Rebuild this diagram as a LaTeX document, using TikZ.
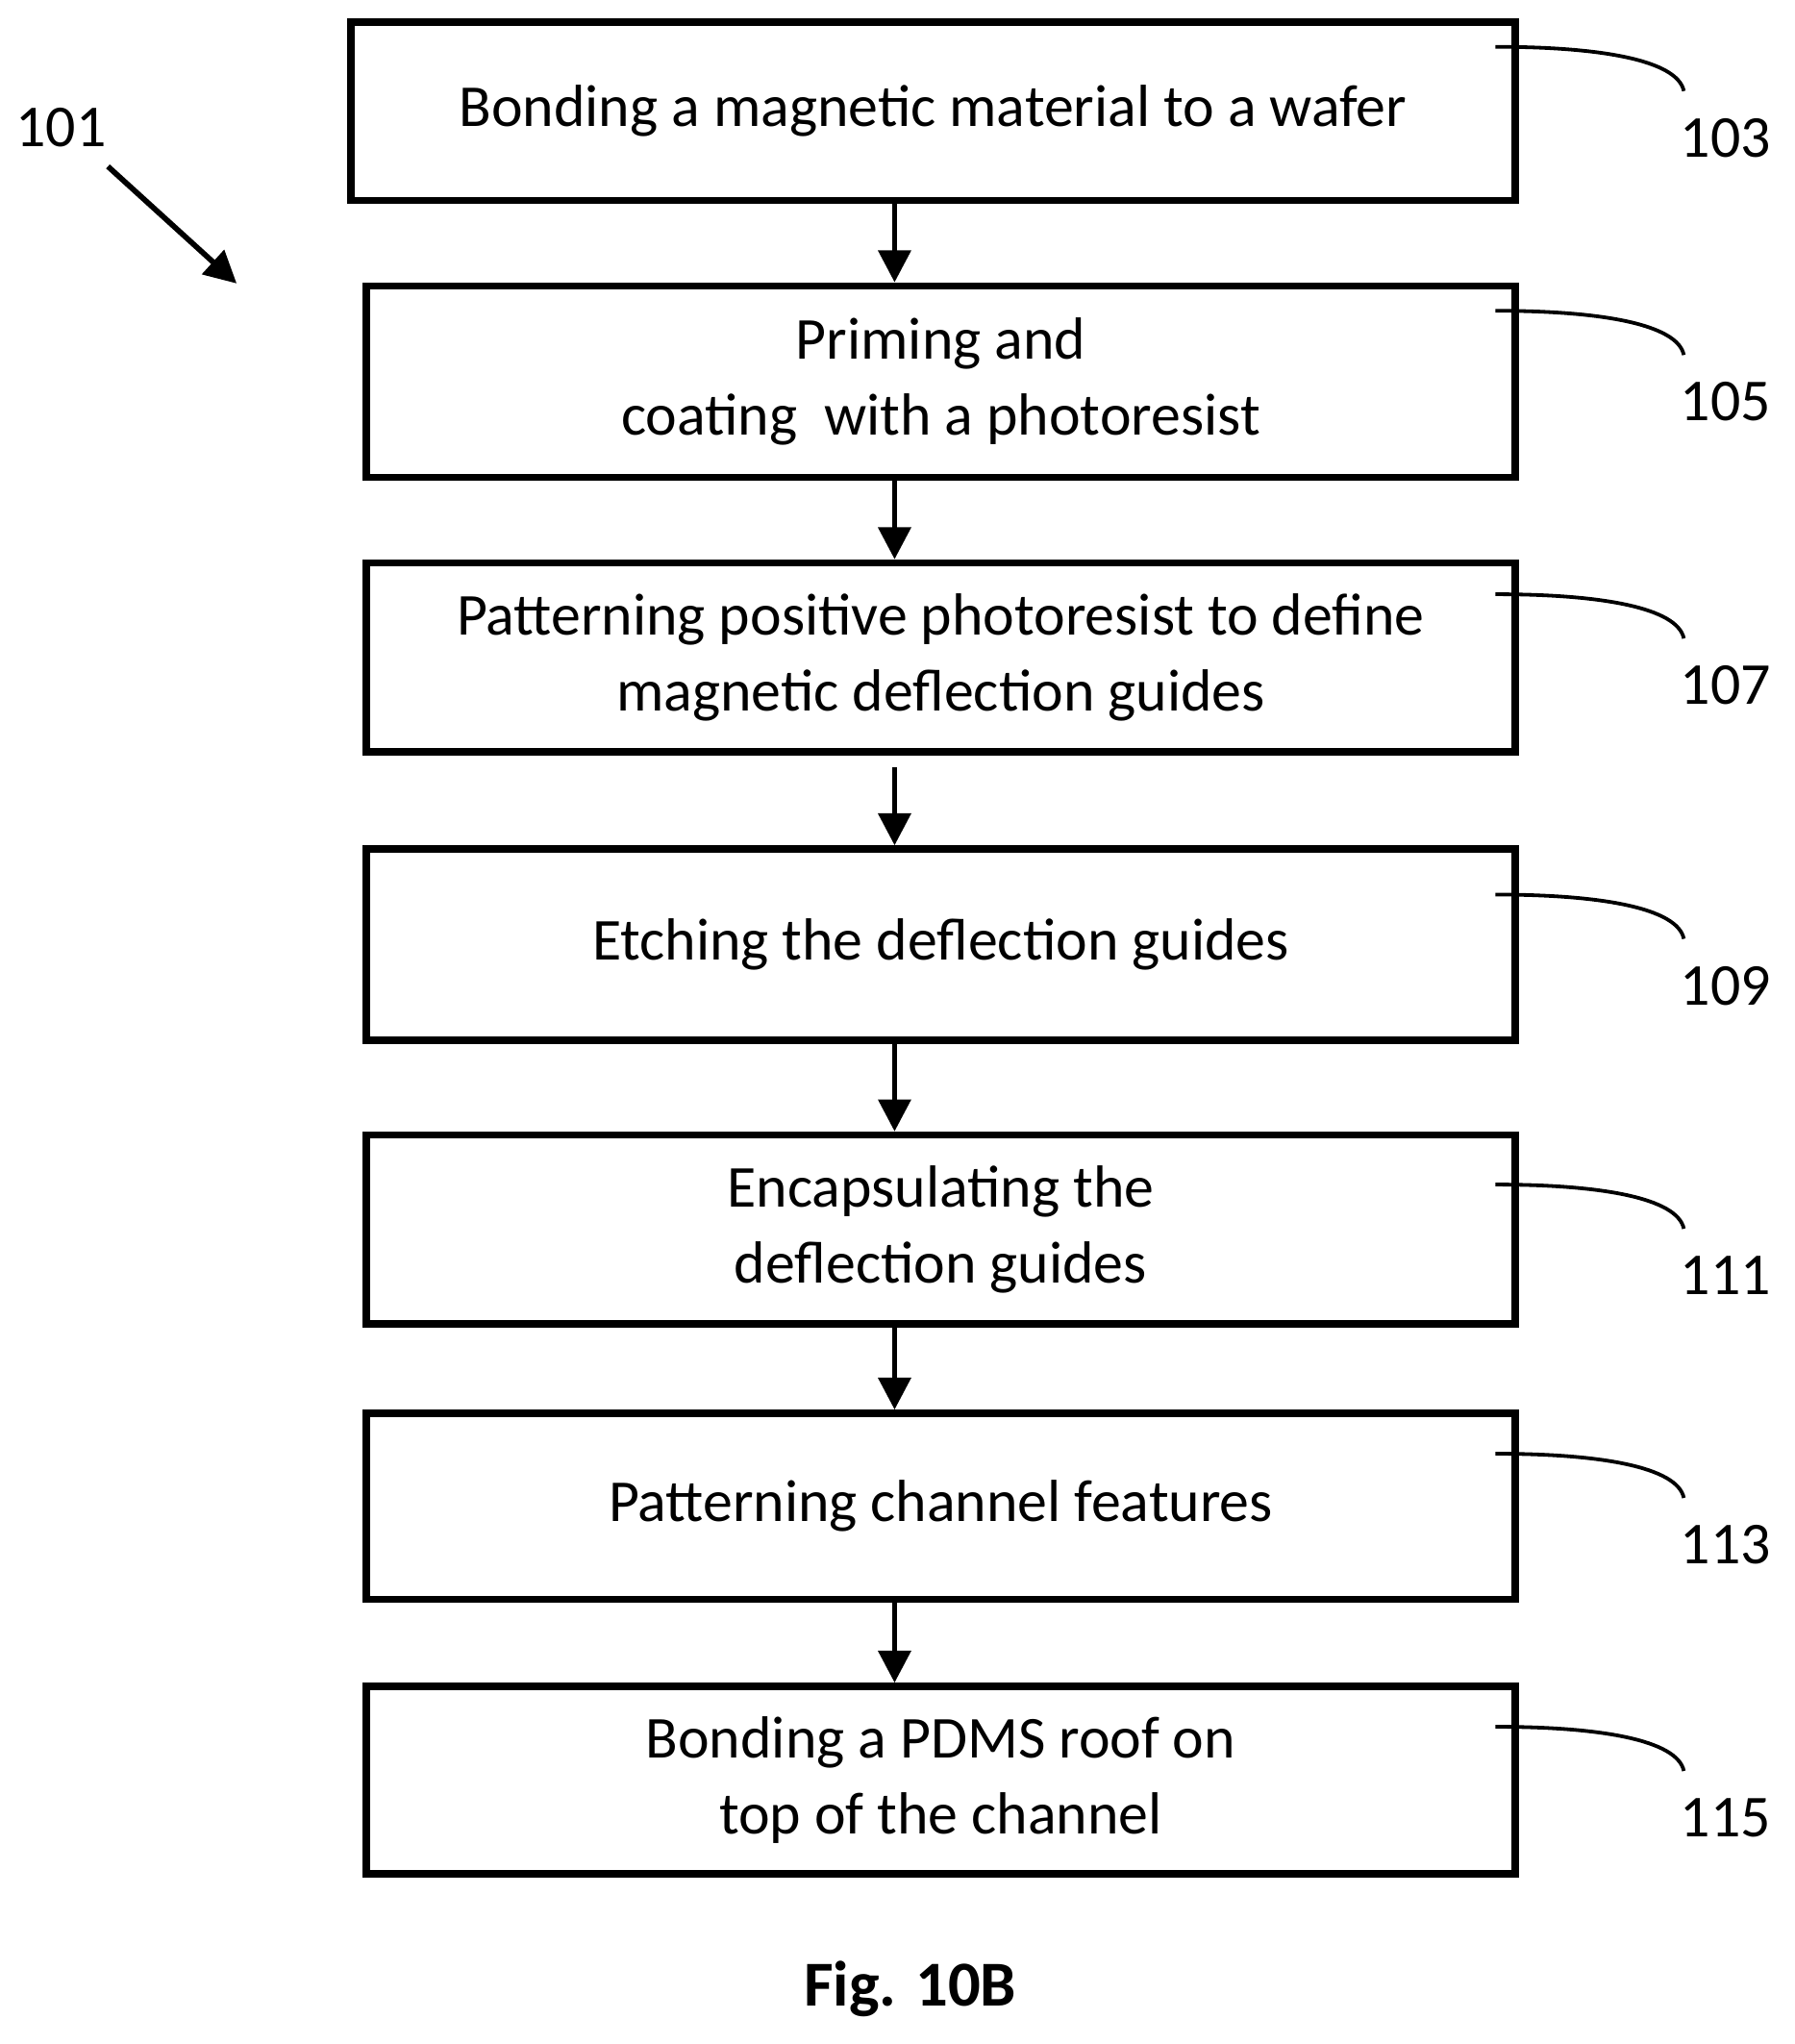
\documentclass[tikz,border=0pt]{standalone}
\usepackage{fontspec}
\setmainfont{Carlito}
\usetikzlibrary{arrows.meta,positioning}
\tikzstyle{stage}=[draw, line width=1.6pt, inner sep=0pt, align=center,
                   font=\fontsize{13}{16.5}\selectfont]
\tikzstyle{flow} =[-{Triangle[length=7pt,width=7pt]}, line width=1.2pt]
\tikzstyle{lead} =[line width=0.8pt]
\tikzstyle{num}  =[font=\fontsize{13}{16}\selectfont]
\begin{document}
\begin{tikzpicture}[x=0.01cm,y=-0.01cm]
    \useasboundingbox (0,0) rectangle (1380,1572);

    \node (s1) [stage,minimum width=8.95cm,minimum height=1.37cm] at (717.5,85.5) {Bonding a magnetic material to a wafer};
    \node (s2) [stage,minimum width=8.83cm,minimum height=1.47cm] at (723.5,293.5) {Priming and\\coating\ \ with a photoresist};
    \node (s3) [stage,minimum width=8.83cm,minimum height=1.45cm] at (723.5,505.5) {Patterning positive photoresist to define\\magnetic deflection guides};
    \node (s4) [stage,minimum width=8.83cm,minimum height=1.47cm] at (723.5,726.5) {Etching the deflection guides};
    \node (s5) [stage,minimum width=8.83cm,minimum height=1.45cm] at (723.5,945.5) {Encapsulating the\\deflection guides};
    \node (s6) [stage,minimum width=8.83cm,minimum height=1.43cm] at (723.5,1158.5) {Patterning channel features};
    \node (s7) [stage,minimum width=8.83cm,minimum height=1.44cm] at (723.5,1369) {Bonding a PDMS roof on\\top of the channel};

    \coordinate (a3) at (688,590);
    \draw [flow] (s1.south -| a3) -- (s2.north -| a3);
    \draw [flow] (s2.south -| a3) -- (s3.north -| a3);
    \draw [flow] (a3) -- (s4.north -| a3);
    \foreach \i/\j in {4/5,5/6,6/7}
        \draw [flow] (s\i.south -| a3) -- (s\j.north -| a3);

    % reference numerals
    \foreach \s/\n/\y in {s1/103/36,s2/105/239,s3/107/457,s4/109/688,s5/111/911,s6/113/1118,s7/115/1328} {
        \coordinate (c\n) at (1150,\y);
        \node (n\n) [num] at (1327,\y+70) {\n};
        \draw [lead] (c\n) .. controls (1230,\y) and (1290,\y+10) .. (1295,\y+34);
    }

    \node (n101) [num] at (47,98) {101};
    \coordinate (p101) at (83,128);
    \coordinate (q101) at (182,218);
    \draw [flow] (p101) -- (q101);

    \node (fig) [font=\bfseries\fontsize{14}{16}\selectfont] at (700,1530) {Fig. 10B};
\end{tikzpicture}
\end{document}
